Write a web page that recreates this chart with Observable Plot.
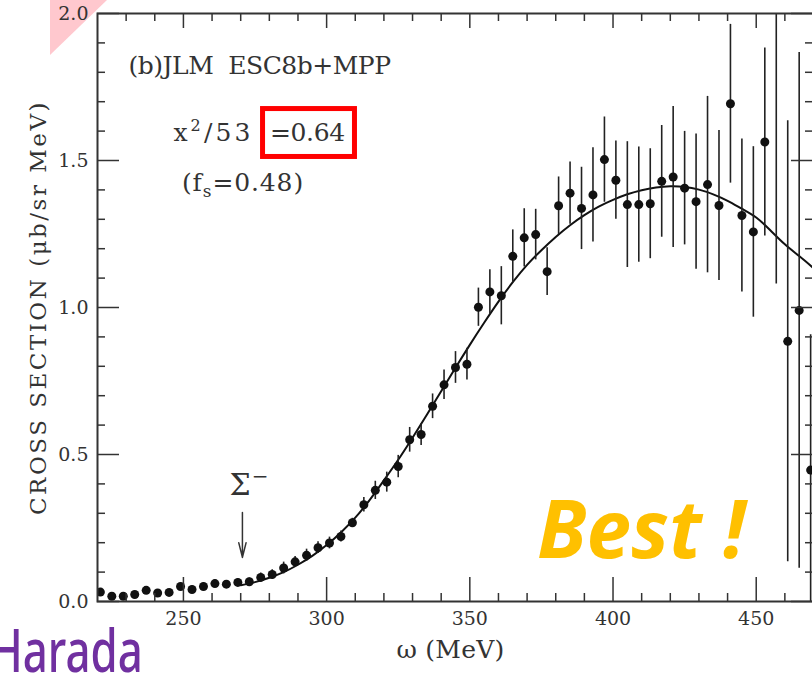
<!DOCTYPE html>
<html><head><meta charset="utf-8">
<script src="https://cdn.jsdelivr.net/npm/d3@7"></script>
<script src="https://cdn.jsdelivr.net/npm/@observablehq/plot@0.6"></script>
<style>
html,body{margin:0;padding:0;background:#fff;overflow:hidden;width:812px;height:674px;}
#wrap{position:relative;width:812px;height:674px;overflow:hidden;}
#pink{position:absolute;left:50px;top:0;width:57px;height:55px;background:#ffc8ce;clip-path:polygon(0 0,100% 0,0 100%);z-index:0;}
#chart{position:absolute;left:0;top:0;z-index:1;}
.deco{position:absolute;z-index:2;white-space:nowrap;}
#best{left:537px;top:487px;line-height:1;font-family:"Open Sans";font-weight:700;font-style:italic;font-size:80px;color:#ffc000;}
#harada{left:-10px;top:627px;line-height:0.75;font-family:"Noto Sans";font-weight:500;font-size:60px;color:#7030a0;transform:scaleX(0.73);transform-origin:0 0;}
</style></head>
<body><div id="wrap"><div id="pink"></div><div id="chart"></div>
<div id="best" class="deco">Best !</div><div id="harada" class="deco">Harada</div></div>
<script>
// Observed cross section (ω in MeV, value in μb/sr MeV, symmetric error)
const omega = [221,225,229,233,237,241,245,249,253,257,261,265,269,273,277,281,285,289,293,297,301,305,309,313,317,321,325,329,333,337,341,345,349,353,357,361,365,369,373,377,381,385,389,393,397,401,405,409,413,417,421,425,429,433,437,441,445,449,453,457,461,465,469];
const xsec = [0.032,0.018,0.018,0.024,0.038,0.029,0.031,0.051,0.041,0.051,0.061,0.059,0.065,0.067,0.082,0.092,0.114,0.135,0.157,0.183,0.199,0.221,0.268,0.329,0.378,0.406,0.459,0.550,0.568,0.664,0.737,0.796,0.807,1.001,1.053,1.040,1.174,1.237,1.248,1.122,1.346,1.389,1.337,1.383,1.503,1.433,1.350,1.350,1.353,1.429,1.444,1.406,1.360,1.418,1.347,1.693,1.313,1.257,1.563,2.150,0.885,0.990,0.447];
const xerr = [0.010,0.010,0.010,0.010,0.010,0.010,0.010,0.012,0.012,0.012,0.012,0.012,0.012,0.013,0.015,0.016,0.020,0.018,0.021,0.020,0.020,0.019,0.015,0.025,0.031,0.034,0.038,0.042,0.037,0.042,0.050,0.054,0.054,0.065,0.075,0.099,0.090,0.099,0.086,0.081,0.098,0.106,0.140,0.160,0.145,0.133,0.214,0.196,0.187,0.190,0.240,0.193,0.230,0.300,0.255,0.270,0.260,0.290,0.320,1.070,0.750,0.877,0.460];

// Theory curve (JLM ESC8b+MPP)
const curveOmega = [270,275,280,285,290,295,300,305,310,315,320,325,330,335,340,345,350,355,360,365,370,375,380,385,390,395,400,405,410,415,420,425,430,435,440,445,450,455,460,465,470];
const curveXsec = [0.055,0.066,0.081,0.100,0.125,0.155,0.192,0.235,0.285,0.345,0.412,0.482,0.557,0.635,0.715,0.795,0.873,0.948,1.020,1.086,1.145,1.195,1.240,1.280,1.314,1.343,1.366,1.385,1.399,1.408,1.412,1.410,1.401,1.385,1.363,1.336,1.306,1.262,1.215,1.175,1.134];

// Axis ticks
const xMajor = [250,300,350,400,450];
const xMinor = [230,240,260,270,280,290,310,320,330,340,360,370,380,390,410,420,430,440,460];
const yMajor = [0,0.5,1.0,1.5,2.0];
const yMinor = [0.1,0.2,0.3,0.4,0.6,0.7,0.8,0.9,1.1,1.2,1.3,1.4,1.6,1.7,1.8,1.9];

// Annotations
const notes = [
  {x:230.8, y:1.820, text:"(b)JLM  ESC8b+MPP"},
  {x:246.5, y:1.592, text:"x2/53"},
  {x:280.2, y:1.592, text:"=0.64"},
  {x:249.5, y:1.422, text:"(fs=0.48)"}
];
const box = [{x1:277.8, x2:309.9, y1:1.512, y2:1.675}];
const sigmaLabel = [{x:266.1, y:0.395, text:"S-"}];
const sigmaArrow = [{x1:270.6, y1:0.303, x2:270.6, y2:0.150}];

// target text widths (px)
const widths = {"(b)JLM  ESC8b+MPP":262, "x2/53":80, "=0.64":75, "(fs=0.48)":122, "CROSS SECTION (μb/sr MeV)":415, "ω (MeV)":108};

const obs = omega.map((x,i)=>({x, y:xsec[i], e:xerr[i]}));
const theory = curveOmega.map((x,i)=>({x, y:curveXsec[i]}));

const W=815, H=674, ML=97, MR=2, MT=13, MB=73;
const FW=W-ML-MR, FH=H-MT-MB;
const ink="#333";

const chart = Plot.plot({
  width:W, height:H, marginLeft:ML, marginRight:MR, marginTop:MT, marginBottom:MB,
  style:{background:"transparent", maxWidth:"none", fontFamily:"DejaVu Serif", overflow:"visible"},
  x:{domain:[220,470], axis:null},
  y:{domain:[0,2], axis:null},
  marks:[
    Plot.line(theory,{x:"x",y:"y",curve:"natural",stroke:"#111",strokeWidth:2,clip:true}),
    Plot.ruleX(obs,{x:"x",y1:d=>d.y-d.e,y2:d=>d.y+d.e,stroke:"#222",strokeWidth:1.6,clip:true}),
    Plot.dot(obs,{x:"x",y:"y",r:4.5,fill:"#111",clip:true}),
    Plot.frame({stroke:ink,strokeWidth:2}),
    Plot.ruleX(xMajor,{x:d=>d,insetTop:FH-24,stroke:ink,strokeWidth:1.5}),
    Plot.ruleX(xMinor,{x:d=>d,insetTop:FH-8,stroke:ink,strokeWidth:1.5}),
    Plot.ruleX(xMajor,{x:d=>d,insetBottom:FH-15,stroke:ink,strokeWidth:1.5}),
    Plot.ruleX(xMinor,{x:d=>d,insetBottom:FH-8,stroke:ink,strokeWidth:1.5}),
    Plot.ruleY(yMajor,{y:d=>d,insetRight:FW-22,stroke:ink,strokeWidth:1.5}),
    Plot.ruleY(yMinor,{y:d=>d,insetRight:FW-8,stroke:ink,strokeWidth:1.5}),
    Plot.ruleY(yMajor,{y:d=>d,insetLeft:FW-22,stroke:ink,strokeWidth:1.5}),
    Plot.ruleY(yMinor,{y:d=>d,insetLeft:FW-8,stroke:ink,strokeWidth:1.5}),
    Plot.text(xMajor,{x:d=>d,frameAnchor:"bottom",dy:23,text:d=>String(d),fontSize:19,fill:ink}),
    Plot.text(yMajor,{y:d=>d,frameAnchor:"left",dx:-9,textAnchor:"end",text:d=>d.toFixed(1),fontSize:19,fill:ink}),
    Plot.text(["ω (MeV)"],{frameAnchor:"bottom",textAnchor:"middle",dx:-5,dy:56,fontSize:25,fill:ink}),
    Plot.text(["CROSS SECTION (μb/sr MeV)"],{frameAnchor:"left",textAnchor:"middle",dx:-59,rotate:-90,fontSize:23,fill:ink}),
    Plot.text(notes,{x:"x",y:"y",text:"text",textAnchor:"start",fontSize:25,fill:ink}),
    Plot.rect(box,{x1:"x1",x2:"x2",y1:"y1",y2:"y2",fill:"none",stroke:"#ff0000",strokeWidth:5}),
    Plot.text(sigmaLabel,{x:"x",y:"y",text:"text",textAnchor:"start",fontSize:30,fill:ink}),
    Plot.arrow(sigmaArrow,{x1:"x1",y1:"y1",x2:"x2",y2:"y2",headLength:16,headAngle:28,stroke:ink,strokeWidth:1.5})
  ]
});
document.getElementById("chart").appendChild(chart);

d3.select(chart).selectAll("text").each(function(){
  const t=this.textContent, s=d3.select(this);
  const target = widths[t];
  if(t==="x2/53"){
    s.text(null);
    s.append("tspan").text("x");
    s.append("tspan").attr("dy",-10).attr("font-size",16).text("2");
    s.append("tspan").attr("dy",10).text("/53");
  } else if(t==="(fs=0.48)"){
    s.text(null);
    s.append("tspan").text("(f");
    s.append("tspan").attr("dy",6).attr("font-size",17).text("s");
    s.append("tspan").attr("dy",-6).text("=0.48)");
  } else if(t==="S-"){
    s.text(null);
    s.append("tspan").text("Σ");
    s.append("tspan").attr("dx",1).attr("dy",-12).attr("font-size",20).text("−");
  }
  if(target){
    const n = this.textContent.length;
    const w = this.getComputedTextLength();
    const ls = (target - w) / n;
    s.style("letter-spacing", ls.toFixed(2) + "px");
  }
});
</script>
</body></html>
